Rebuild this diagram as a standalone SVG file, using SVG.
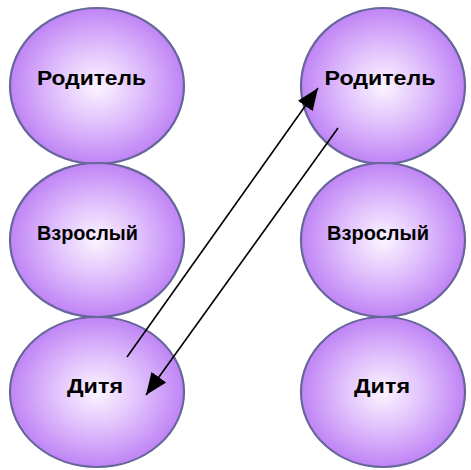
<svg xmlns="http://www.w3.org/2000/svg" width="471" height="470" viewBox="0 0 471 470">
  <defs>
    <radialGradient id="g" cx="50%" cy="50%" r="50%">
      <stop offset="0" stop-color="#fbf5ff"/>
      <stop offset="0.5" stop-color="#e0bffc"/>
      <stop offset="1" stop-color="#bf84f5"/>
    </radialGradient>
    <marker id="ah" markerUnits="userSpaceOnUse" markerWidth="24" markerHeight="20" refX="22" refY="10" orient="auto">
      <path d="M0,1 L22,10 L0,19 Z" fill="#000"/>
    </marker>
    <style>
      .n { fill: url(#g); stroke: #66669a; stroke-width: 2.2; }
      .t { font-family: "Liberation Sans", Arial, sans-serif; font-weight: bold; font-size: 21px; fill: #000; text-anchor: middle; }
      .c { stroke: #000; stroke-width: 1.6; fill: none; marker-end: url(#ah); }
    </style>
  </defs>
  <rect width="471" height="470" fill="#fff"/>
  <g id="left-parent"><ellipse class="n" cx="97" cy="86" rx="87" ry="78"/><text class="t" x="91.5" y="85" textLength="109" lengthAdjust="spacingAndGlyphs">Родитель</text></g>
  <g id="left-adult"><ellipse class="n" cx="97" cy="240" rx="87" ry="77"/><text class="t" x="87.5" y="240" textLength="101" lengthAdjust="spacingAndGlyphs">Взрослый</text></g>
  <g id="left-child"><ellipse class="n" cx="97" cy="392" rx="87" ry="75"/><text class="t" x="95" y="393" textLength="56" lengthAdjust="spacingAndGlyphs">Дитя</text></g>
  <g id="right-parent"><ellipse class="n" cx="383" cy="86" rx="82" ry="78"/><text class="t" x="380" y="85" textLength="111" lengthAdjust="spacingAndGlyphs">Родитель</text></g>
  <g id="right-adult"><ellipse class="n" cx="383" cy="240" rx="82" ry="77"/><text class="t" x="378" y="240" textLength="102" lengthAdjust="spacingAndGlyphs">Взрослый</text></g>
  <g id="right-child"><ellipse class="n" cx="383" cy="392" rx="82" ry="75"/><text class="t" x="382" y="393" textLength="56" lengthAdjust="spacingAndGlyphs">Дитя</text></g>
  <g id="connectors">
    <line class="c" x1="127" y1="357" x2="318" y2="88"/>
    <line class="c" x1="338" y1="128" x2="146" y2="395"/>
  </g>
</svg>
